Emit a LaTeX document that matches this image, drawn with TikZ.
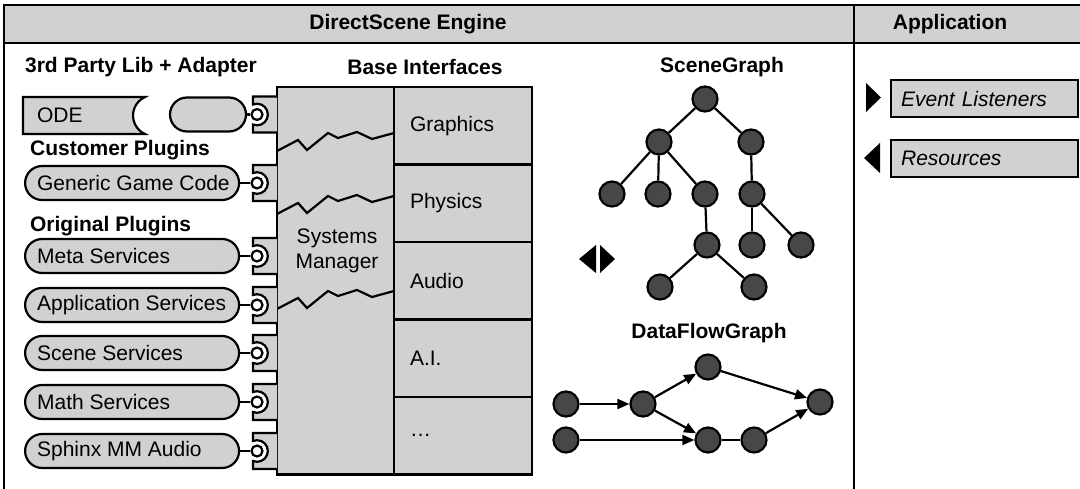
\documentclass[tikz,border=0pt]{standalone}
\usepackage{fontspec}
\setmainfont{Liberation Sans}
\usetikzlibrary{arrows.meta}
\definecolor{dither}{gray}{0.82}
\definecolor{nodegray}{gray}{0.28}
\begin{document}
\begin{tikzpicture}[x=1pt, y=-1pt, line width=2.2pt,
    every node/.style={inner sep=0pt, font=\fontsize{21}{25}\selectfont},
    heading/.style={font=\fontsize{21}{25}\selectfont\bfseries},
    plugin/.style={draw, fill=dither, rounded corners=17pt, minimum height=34pt, minimum width=214pt, inner xsep=12pt},
    ball/.style={circle, draw, fill=white, minimum size=11pt},
    cell/.style={draw, fill=dither, minimum width=138pt, minimum height=77.5pt, inner xsep=16pt, text width=106pt, align=left},
    knot/.style={circle, draw, fill=nodegray, minimum size=25pt},
    flow/.style={-{Triangle[length=12pt,width=10pt]}},
    appbox/.style={draw, fill=dither, minimum width=187pt, minimum height=37pt, inner xsep=10pt, text width=167pt, align=left, font=\fontsize{21}{25}\selectfont\itshape}]
\useasboundingbox (0,0) rectangle (1080,489);
% frame and header
\draw[fill=dither, line width=2pt] (4,5) rectangle (1090,43);
\draw[line width=2pt] (4,43) -- (4,495);
\draw[line width=2pt] (854,5) -- (854,495);
\node[heading] (engine) at (408,24) {DirectScene Engine};
\node[heading] (app) at (950,24) {Application};
% left column
\node[heading, anchor=west] (third) at (24,67) {3rd Party Lib + Adapter};
\node[heading, anchor=west] (customer) at (29,150) {Customer Plugins};
\node[heading, anchor=west] (original) at (29,226) {Original Plugins};
\draw[fill=dither] (23,97) -- (145,97) arc[start angle=245.8, end angle=114.2, radius=20.3] -- (23,134) -- cycle;
\node[anchor=west] (ode) at (36,115.5) {ODE};
\node[draw, fill=dither, rounded corners=17pt, minimum width=76pt, minimum height=34pt] (ad) at (208,114.5) {};
\foreach \y/\n/\t in {183/gg/Generic Game Code, 256/ms/Meta Services, 305/as/Application Services, 353/ss/Scene Services, 402/mt/Math Services, 451/sx/Sphinx MM Audio}
    \node[plugin, anchor=west] (\n) at (24,\y) {\makebox[190pt][l]{\t}};
% systems manager
\node[draw, fill=dither, minimum width=117pt, minimum height=387.5pt] (sys) at (335.5,280.75) {};
\foreach \d in {0,63,158}
    \draw (277,151+\d) -- (298,140+\d) -- (307,150+\d) -- (328,133+\d) -- (338,138+\d) -- (357,132+\d) -- (372,139+\d) -- (394,133+\d);
\node[align=center] (sm) at (337,251) {Systems\\Manager};
% sockets
\foreach \y/\n in {114.5/ad, 183/gg, 256/ms, 305/as, 353/ss, 402/mt, 451/sx} {
    \draw[fill=dither] (277,\y-18) -- (253,\y-18) -- (253,\y-10) arc[start angle=-112, end angle=112, radius=10.8] -- (253,\y+18) -- (277,\y+18);
    \node[ball] (b\n) at (257,\y) {};
    \draw (\n.east) -- (b\n.west);
}
% base interfaces
\node[heading] (base) at (425,67) {Base Interfaces};
\foreach \t [count=\i] in {Graphics,Physics,Audio,A.I.,\ldots}
    \node[cell] (c\i) at (463,87+77.5*\i-38.75) {\t};
% scene graph
\node[heading] (scene) at (722,67) {SceneGraph};
\foreach \n/\x/\y in {s1/705/99, s2/659/142, s3/751/142, s4/612/194, s5/658/194, s6/705/194, s7/752/194, s8/707/245, s9/752/245, s10/801/245, s11/660/287, s12/754/287}
    \node[knot] (\n) at (\x,\y) {};
\foreach \a/\b in {s1/s2, s1/s3, s2/s4, s2/s5, s2/s6, s3/s7, s6/s8, s7/s9, s7/s10, s8/s11, s8/s12}
    \draw (\a) -- (\b);
\fill (579,259) -- (596,245) -- (596,273) -- cycle;
\fill (600,245) -- (615,259) -- (600,273) -- cycle;
% data flow graph
\node[heading] (flowg) at (709,333) {DataFlowGraph};
\foreach \n/\x/\y in {d1/566/404, d2/566/440, d3/643/404, d4/708/367, d5/708/440, d6/754/440, d7/820/402}
    \node[knot] (\n) at (\x,\y) {};
\foreach \a/\b in {d1/d3, d3/d4, d3/d5, d2/d5, d4/d7, d6/d7}
    \draw[flow] (\a) -- (\b);
\draw (d5) -- (d6);
% application
\node[appbox, anchor=west] (ev) at (890,98.5) {Event Listeners};
\node[appbox, anchor=west] (res) at (890,158.5) {Resources};
\fill (866,83) -- (881,97.5) -- (866,112) -- cycle;
\fill (880,143) -- (864,158) -- (880,173) -- cycle;
\end{tikzpicture}
\end{document}
